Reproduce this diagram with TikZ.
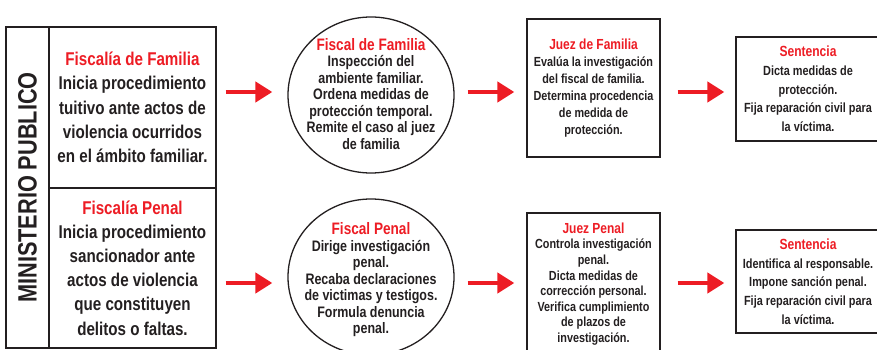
\documentclass[tikz,border=0pt]{standalone}
\usepackage{fontspec}
\setmainfont{Liberation Sans}[FakeStretch=0.82]
\usetikzlibrary{arrows.meta,shapes.geometric}
\definecolor{rojo}{HTML}{ED1C24}
\definecolor{tinta}{HTML}{231F20}
\newcommand{\titulo}[2]{{\fontsize{#1}{#1}\selectfont\color{rojo}#2}}
\tikzset{
  caja/.style={draw=tinta, line width=1.3pt, rectangle, inner sep=0pt, align=center, text=tinta},
  circulo/.style={draw=tinta, line width=1.3pt, ellipse, minimum width=166pt, minimum height=156pt, inner sep=0pt},
  texto/.style={align=center, text=tinta, inner sep=0pt, font=\fontsize{15.2}{16.5}\selectfont\bfseries},
  flecha/.style={rojo, line width=4.5pt, -{Triangle[length=17pt,width=20pt]}}
}
\begin{document}
\begin{tikzpicture}[x=1pt,y=-1pt]
    \useasboundingbox (0,0) rectangle (877,350);

    % Ministerio Publico
    \node[caja, minimum width=43pt, minimum height=321pt] (min) at (27.5,187.5) {};
    \node[rotate=90, text=tinta, font=\fontsize{26.5}{26.5}\selectfont\bfseries] at (min.center) {MINISTERIO PUBLICO};
    \node[caja, minimum width=167pt, minimum height=161pt, font=\fontsize{18.5}{24.2}\selectfont\bfseries] (famL) at (132.5,107.5)
        {\titulo{18.5}{Fiscalía de Familia}\\Inicia procedimiento\\tuitivo ante actos de\\violencia ocurridos\\en el ámbito familiar.};
    \node[caja, minimum width=167pt, minimum height=160pt, font=\fontsize{18.5}{24.2}\selectfont\bfseries] (penL) at (132.5,268)
        {\titulo{18.5}{Fiscalía Penal}\\Inicia procedimiento\\sancionador ante\\actos de violencia\\que constituyen\\delitos o faltas.};

    % Fiscales
    \node[circulo] (famC) at (371,95) {};
    \node[texto] (famCt) at ([yshift=1pt]famC.center)
        {\titulo{16.6}{Fiscal de Familia}\\Inspección del\\ambiente familiar.\\Ordena medidas de\\protección temporal.\\Remite el caso al juez\\de familia};
    \node[circulo] (penC) at (371,277) {};
    \node[texto] (penCt) at ([yshift=-3pt]penC.center)
        {\titulo{16.6}{Fiscal Penal}\\Dirige investigación\\penal.\\Recaba declaraciones\\de victimas y testigos.\\Formula denuncia\\penal.};

    % Jueces
    \node[caja, minimum width=133pt, minimum height=138pt, font=\fontsize{13.2}{17}\selectfont\bfseries] (famJ) at (593.5,88)
        {\titulo{14.6}{Juez de Familia}\\Evalúa la investigación\\del fiscal de familia.\\Determina procedencia\\de medida de\\protección.};
    \node[caja, minimum width=133pt, minimum height=142pt, font=\fontsize{13.2}{15.6}\selectfont\bfseries] (penJ) at (593.5,284)
        {\titulo{14.6}{Juez Penal}\\Controla investigación\\penal.\\Dicta medidas de\\corrección personal.\\Verifica cumplimiento\\de plazos de\\investigación.};

    % Sentencias
    \node[caja, minimum width=144pt, minimum height=104pt, font=\fontsize{13.3}{18.7}\selectfont\bfseries] (famS) at (808,89)
        {\titulo{14.7}{Sentencia}\\Dicta medidas de\\protección.\\Fija reparación civil para\\la víctima.};
    \node[caja, minimum width=144pt, minimum height=103pt, font=\fontsize{13.3}{18.7}\selectfont\bfseries] (penS) at (808,281.5)
        {\titulo{14.7}{Sentencia}\\Identifica al responsable.\\Impone sanción penal.\\Fija reparación civil para\\la víctima.};

    % Flechas
    \draw[flecha, shorten <=9pt, shorten >=15pt] ([yshift=3pt]famC.west -| famL.east) -- ([yshift=3pt]famC.west);
    \draw[flecha, shorten <=13pt, shorten >=12pt] ([yshift=-4pt]famJ.west -| famC.east) -- ([yshift=-4pt]famJ.west);
    \draw[flecha, shorten <=17pt, shorten >=11pt] ([yshift=-3pt]famS.west -| famJ.east) -- ([yshift=-3pt]famS.west);
    \draw[flecha, shorten <=9pt, shorten >=15pt] ([yshift=-6pt]penC.west -| penL.east) -- ([yshift=-6pt]penC.west);
    \draw[flecha, shorten <=13pt, shorten >=12pt] ([yshift=1pt]penJ.west -| penC.east) -- ([yshift=1pt]penJ.west);
    \draw[flecha, shorten <=17pt, shorten >=11pt] ([yshift=-1.5pt]penS.west -| penJ.east) -- ([yshift=-1.5pt]penS.west);
\end{tikzpicture}
\end{document}
